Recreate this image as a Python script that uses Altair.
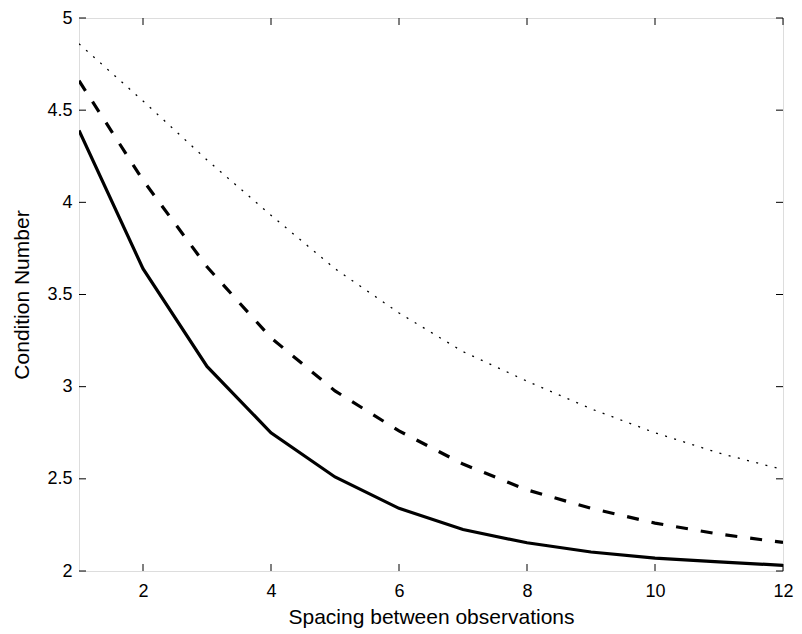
import altair as alt
import pandas as pd

spacing = [1, 2, 3, 4, 5, 6, 7, 8, 9, 10, 11, 12]
solid_vals = [4.39, 3.64, 3.11, 2.75, 2.51, 2.34, 2.225, 2.153, 2.103, 2.07, 2.049, 2.031]
dashed_vals = [4.66, 4.12, 3.65, 3.265, 2.977, 2.76, 2.58, 2.44, 2.34, 2.26, 2.20, 2.155]
dotted_vals = [4.86, 4.55, 4.23, 3.93, 3.64, 3.40, 3.19, 3.03, 2.88, 2.75, 2.64, 2.55]
x_ticks = [2, 4, 6, 8, 10, 12]
y_ticks = [2, 2.5, 3, 3.5, 4, 4.5, 5]

W, H = 704, 553
FONT = "Liberation Sans"

rows = []
for name, vals in [("solid", solid_vals), ("dashed", dashed_vals), ("dotted", dotted_vals)]:
    for xv, yv in zip(spacing, vals):
        rows.append({"x": xv, "y": yv, "series": name})
df = pd.DataFrame(rows)

xscale = alt.Scale(domain=[1, 12], nice=False, zero=False)
yscale = alt.Scale(domain=[2, 5], nice=False, zero=False)

xaxis = alt.Axis(values=x_ticks, title="Spacing between observations", grid=False, domain=False,
                 tickSize=0, labelPadding=20, labelBaseline="middle", labelFontSize=18,
                 labelFont=FONT, labelColor="black", titleFont=FONT, titleFontSize=21,
                 titleFontWeight="normal", titleColor="black", titleY=52, titleBaseline="alphabetic",
                 labelExpr="'' + datum.value", labelFlush=False, labelOverlap=False)
yaxis = alt.Axis(values=y_ticks, title="Condition Number", grid=False, domain=False,
                 tickSize=0, labelPadding=7, labelBaseline="middle", labelFontSize=18,
                 labelFont=FONT, labelColor="black", titleFont=FONT, titleFontSize=21,
                 titleFontWeight="normal", titleColor="black", titleX=-57, titleY=H / 2,
                 titleBaseline="middle", titleAlign="center",
                 labelExpr="'' + datum.value", labelFlush=False, labelOverlap=False)

base = alt.Chart(df)

solid = base.transform_filter("datum.series == 'solid'").mark_line(
    color="black", strokeWidth=3.2, clip=True
).encode(x=alt.X("x:Q", scale=xscale, axis=xaxis), y=alt.Y("y:Q", scale=yscale, axis=yaxis))

dashed = base.transform_filter("datum.series == 'dashed'").mark_line(
    color="black", strokeWidth=3.2, strokeDash=[12, 13], clip=True
).encode(x=alt.X("x:Q", scale=xscale), y=alt.Y("y:Q", scale=yscale))

dotted = base.transform_filter("datum.series == 'dotted'").mark_line(
    color="black", strokeWidth=1.3, strokeDash=[2, 7.5], clip=True
).encode(x=alt.X("x:Q", scale=xscale), y=alt.Y("y:Q", scale=yscale))

xt = pd.DataFrame({"t": x_ticks})
yt = pd.DataFrame({"t": y_ticks})

tick_bottom = alt.Chart(xt).mark_rule(color="black", strokeWidth=1).encode(
    x=alt.X("t:Q", scale=xscale), y=alt.value(H), y2=alt.value(H - 7))
tick_top = alt.Chart(xt).mark_rule(color="black", strokeWidth=1).encode(
    x=alt.X("t:Q", scale=xscale), y=alt.value(0), y2=alt.value(7))
tick_left = alt.Chart(yt).mark_rule(color="black", strokeWidth=1).encode(
    y=alt.Y("t:Q", scale=yscale), x=alt.value(0), x2=alt.value(7))
tick_right = alt.Chart(yt).mark_rule(color="black", strokeWidth=1).encode(
    y=alt.Y("t:Q", scale=yscale), x=alt.value(W), x2=alt.value(W - 7))

chart = alt.layer(
    tick_bottom, tick_top, tick_left, tick_right, dotted, dashed, solid
).properties(
    width=W, height=H,
    autosize=alt.AutoSizeParams(type="none"),
    padding={"left": 71, "top": 10, "right": 11, "bottom": 60},
).configure_view(
    stroke="black", strokeWidth=1.2
).configure(background="white")

chart.save("out.html", embed_options={"renderer": "svg", "actions": False})
